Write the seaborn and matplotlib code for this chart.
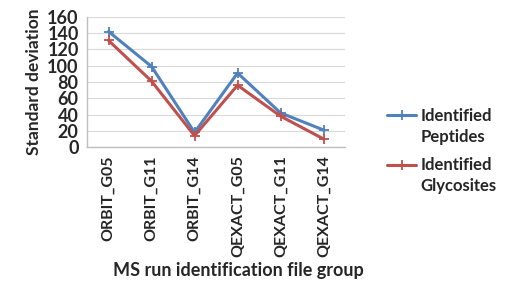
import matplotlib
matplotlib.use("Agg")
import matplotlib.pyplot as plt
import seaborn as sns
import pandas as pd
import numpy as np

categories = ["ORBIT_G05", "ORBIT_G11", "ORBIT_G14", "QEXACT_G05", "QEXACT_G11", "QEXACT_G14"]
peptides = [142, 99, 18, 91, 42, 21]
glycosites = [131, 81, 14, 76, 38, 10]
series_names = ["Identified\nPeptides", "Identified\nGlycosites"]
yticks = [0, 20, 40, 60, 80, 100, 120, 140, 160]

sns.set_theme(style="white")
plt.rcParams['font.family'] = ['Lato', 'DejaVu Sans']
plt.rcParams['font.weight'] = 'bold'

df = pd.DataFrame({
    "x": list(range(len(categories))) * 2,
    "value": peptides + glycosites,
    "series": [series_names[0]] * len(categories) + [series_names[1]] * len(categories),
})

fig = plt.figure(figsize=(5.06, 2.96), dpi=100)
ax = fig.add_axes([0.172, 0.503, 0.51, 0.44])

palette = {series_names[0]: "#4F81BD", series_names[1]: "#C0504D"}
sns.lineplot(data=df, x="x", y="value", hue="series", palette=palette, ax=ax,
             marker="+", markersize=7, markeredgewidth=1.3, linewidth=2.2,
             legend=False, errorbar=None)
for ln in ax.lines:
    ln.set_markeredgecolor(ln.get_color())

ax.set_xlim(-0.5, len(categories) - 0.5)
ax.set_ylim(0, 160)
ax.set_yticks(yticks)
ax.set_yticklabels([str(v) for v in yticks], fontsize=13, fontweight='bold')
ax.set_xticks(range(len(categories)))
ax.set_xticklabels(categories, rotation=90, fontsize=11.5, fontweight='bold')
ax.set_xticks(np.arange(-0.5, len(categories), 1.0), minor=True)
ax.tick_params(axis='x', which='major', length=0, pad=6)
ax.tick_params(axis='x', which='minor', length=5, color='#BFBFBF', width=1)
ax.tick_params(axis='y', which='major', length=4, color='#BFBFBF', pad=2)
ax.xaxis.grid(False, which='both')
ax.yaxis.grid(True, which='major', color='#D9D9D9', linewidth=0.8)
ax.set_axisbelow(True)
for s in ['top', 'right']:
    ax.spines[s].set_visible(False)
for s in ['left', 'bottom']:
    ax.spines[s].set_color('#BFBFBF')
    ax.spines[s].set_linewidth(1)

ax.set_ylabel("Standard deviation", fontsize=12.5, fontweight='bold', labelpad=4)
ax.set_xlabel("MS run identification file group", fontsize=13, fontweight='bold')
ax.xaxis.set_label_coords(0.585, -0.88)

# Excel-style legend: marker line aligned with first text line
legend_tops = [0.635, 0.468]
for name, top in zip(series_names, legend_tops):
    first, second = name.split("\n")
    h1 = plt.Line2D([], [], color=palette[name], marker='+', markersize=7,
                    markeredgewidth=1.3, linewidth=2.2)
    h2 = plt.Line2D([], [], color='none', linewidth=0)
    fig.legend([h1, h2], [first, second], loc='upper left',
               bbox_to_anchor=(0.765, top), frameon=False,
               handlelength=1.75, handletextpad=0.25, labelspacing=0.3,
               borderpad=0, borderaxespad=0,
               prop={'weight': 'bold', 'size': 12})

fig.savefig("out.png", dpi=100)
